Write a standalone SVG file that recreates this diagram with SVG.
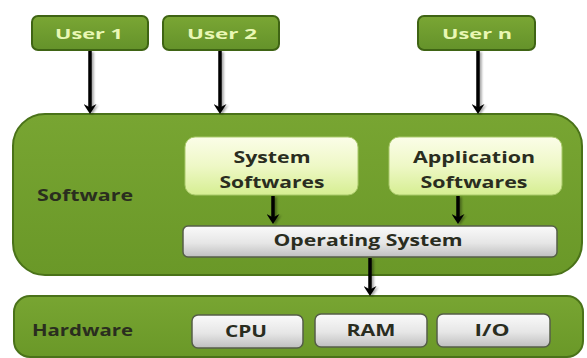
<svg xmlns="http://www.w3.org/2000/svg" width="587" height="358" viewBox="0 0 587 358">
<defs>
<linearGradient id="gGreen" x1="0" y1="0" x2="0" y2="1">
<stop offset="0" stop-color="#78a532"/>
<stop offset="1" stop-color="#6a9828"/>
</linearGradient>
<linearGradient id="gUser" x1="0" y1="0" x2="0" y2="1">
<stop offset="0" stop-color="#7aa634"/>
<stop offset="1" stop-color="#64922a"/>
</linearGradient>
<linearGradient id="gLight" x1="0" y1="0" x2="0" y2="1">
<stop offset="0" stop-color="#fbfde8"/>
<stop offset="0.5" stop-color="#eef8c6"/>
<stop offset="1" stop-color="#d6ee92"/>
</linearGradient>
<linearGradient id="gGrey" x1="0" y1="0" x2="0" y2="1">
<stop offset="0" stop-color="#fafafa"/>
<stop offset="0.55" stop-color="#e6e6e6"/>
<stop offset="1" stop-color="#bfbfbf"/>
</linearGradient>
<marker id="ah" viewBox="0 0 10 13" refX="4" refY="6.5" markerWidth="10" markerHeight="13" markerUnits="userSpaceOnUse" orient="auto">
<path d="M0,0 L10,6.5 L0,13 L3.5,6.5 Z" fill="#000"/>
</marker>
<filter id="sh" x="-50%" y="-20%" width="200%" height="140%">
<feDropShadow dx="2" dy="1" stdDeviation="1" flood-color="#000" flood-opacity="0.35"/>
</filter>
</defs>
<style>
.cont{fill:url(#gGreen);stroke:#4a7219;stroke-width:2}
.user{fill:url(#gUser);stroke:#3f6414;stroke-width:2}
.light{fill:url(#gLight);stroke:#a9c96a;stroke-width:1}
.grey{fill:url(#gGrey);stroke:#555e48;stroke-width:1.5}
.ut{font-family:"Open Sans","Liberation Sans",sans-serif;font-weight:bold;font-size:15px;fill:#e9f7b4;text-anchor:middle}
.lt{font-family:"Open Sans","Liberation Sans",sans-serif;font-weight:bold;font-size:16px;fill:#2a2d1f}
.ct{text-anchor:middle}
.conn{stroke:#000;stroke-width:3.5;fill:none}
</style>
<g id="software">
<rect class="cont" x="13" y="114" width="569" height="161" rx="32" ry="32"/>
<text class="lt" x="37" y="201" textLength="96" lengthAdjust="spacingAndGlyphs">Software</text>
</g>
<g id="hardware">
<rect class="cont" x="14" y="296" width="569" height="61" rx="16" ry="16"/>
<text class="lt" x="32" y="336" textLength="101" lengthAdjust="spacingAndGlyphs">Hardware</text>
</g>
<g id="user1">
<rect class="user" x="32" y="16" width="116" height="34" rx="6" ry="6"/>
<text class="ut" x="89" y="39" textLength="68" lengthAdjust="spacingAndGlyphs">User 1</text>
</g>
<g id="user2">
<rect class="user" x="163" y="16" width="116" height="34" rx="6" ry="6"/>
<text class="ut" x="222" y="39" textLength="70" lengthAdjust="spacingAndGlyphs">User 2</text>
</g>
<g id="usern">
<rect class="user" x="418" y="16" width="117" height="34" rx="6" ry="6"/>
<text class="ut" x="477" y="39" textLength="70" lengthAdjust="spacingAndGlyphs">User n</text>
</g>
<g id="system-softwares">
<rect class="light" x="185" y="137" width="173" height="58" rx="10" ry="10"/>
<text class="lt ct" x="272" y="163" textLength="77" lengthAdjust="spacingAndGlyphs">System</text>
<text class="lt ct" x="272" y="188" textLength="105" lengthAdjust="spacingAndGlyphs">Softwares</text>
</g>
<g id="application-softwares">
<rect class="light" x="389" y="137" width="173" height="58" rx="10" ry="10"/>
<text class="lt ct" x="474" y="163" textLength="122" lengthAdjust="spacingAndGlyphs">Application</text>
<text class="lt ct" x="474" y="188" textLength="107" lengthAdjust="spacingAndGlyphs">Softwares</text>
</g>
<g id="operating-system">
<rect class="grey" x="183" y="226" width="374" height="31" rx="5" ry="5"/>
<text class="lt ct" x="368" y="246" textLength="189" lengthAdjust="spacingAndGlyphs">Operating System</text>
</g>
<g id="cpu">
<rect class="grey" x="192" y="315" width="111" height="33" rx="6" ry="6"/>
<text class="lt ct" x="246" y="337" textLength="42" lengthAdjust="spacingAndGlyphs">CPU</text>
</g>
<g id="ram">
<rect class="grey" x="315" y="314" width="112" height="33" rx="6" ry="6"/>
<text class="lt ct" x="371" y="336" textLength="49" lengthAdjust="spacingAndGlyphs">RAM</text>
</g>
<g id="io">
<rect class="grey" x="437" y="314" width="113" height="33" rx="6" ry="6"/>
<text class="lt ct" x="492" y="336" textLength="35" lengthAdjust="spacingAndGlyphs">I/O</text>
</g>
<g id="connectors" filter="url(#sh)">
<line class="conn" x1="90" y1="51" x2="90" y2="108" marker-end="url(#ah)"/>
<line class="conn" x1="220" y1="51" x2="220" y2="108" marker-end="url(#ah)"/>
<line class="conn" x1="478" y1="51" x2="478" y2="108" marker-end="url(#ah)"/>
<line class="conn" x1="273" y1="196" x2="273" y2="218" marker-end="url(#ah)"/>
<line class="conn" x1="458" y1="196" x2="458" y2="218" marker-end="url(#ah)"/>
<line class="conn" x1="370" y1="258" x2="370" y2="290" marker-end="url(#ah)"/>
</g>
</svg>
